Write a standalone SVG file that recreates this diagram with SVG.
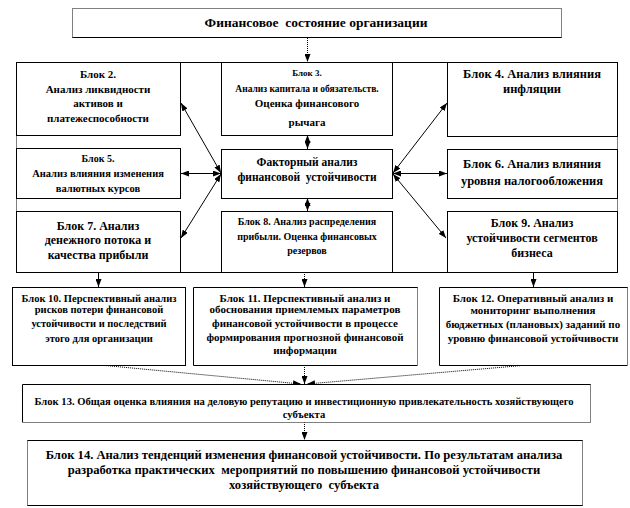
<svg xmlns="http://www.w3.org/2000/svg" width="630" height="508" viewBox="0 0 630 508">
<style>
  text { font-family: "Liberation Serif", "DejaVu Serif", serif; font-weight: bold; fill: #000; text-anchor: middle; white-space: pre; }
  .box { fill: #fff; stroke: #000; stroke-width: 1; }
  .edge { fill: none; stroke: #000; stroke-width: 1; }
  .dot { fill: none; stroke: #000; stroke-width: 1; stroke-dasharray: 1 1; }
  .ln { fill: none; stroke: #000; stroke-width: 1; }
  .lnd { fill: none; stroke: #000; stroke-width: 1; stroke-dasharray: 1 1; }
</style>
<defs>
  <marker id="ah" viewBox="0 0 8 6" refX="8" refY="3" markerWidth="8" markerHeight="6" markerUnits="userSpaceOnUse" orient="auto-start-reverse">
    <path d="M0,0 L8,3 L0,6 z" fill="#000"/>
  </marker>
</defs>
<rect width="630" height="508" fill="#fff"/>

<g id="container">
  <path class="edge" d="M16.5,62.5 H617.5 M16.5,272.5 H617.5"/>
  <path class="dot" d="M16.5,62.5 V272.5 M617.5,62.5 V272.5"/>
</g>

<g id="connectors">
  <line class="lnd" x1="307.5" y1="38" x2="307.5" y2="62" marker-end="url(#ah)"/>
  <line class="ln" x1="307.5" y1="135" x2="307.5" y2="149" marker-start="url(#ah)" marker-end="url(#ah)"/>
  <line class="ln" x1="307.5" y1="198" x2="307.5" y2="211" marker-start="url(#ah)" marker-end="url(#ah)"/>
  <line class="ln" x1="221" y1="173" x2="181" y2="103" marker-start="url(#ah)" marker-end="url(#ah)"/>
  <line class="ln" x1="221" y1="173.5" x2="181" y2="173.5" marker-start="url(#ah)" marker-end="url(#ah)"/>
  <line class="ln" x1="221" y1="174" x2="181" y2="238" marker-start="url(#ah)" marker-end="url(#ah)"/>
  <line class="ln" x1="393" y1="173" x2="447" y2="103" marker-start="url(#ah)" marker-end="url(#ah)"/>
  <line class="ln" x1="393" y1="173.5" x2="447" y2="173.5" marker-start="url(#ah)" marker-end="url(#ah)"/>
  <line class="ln" x1="393" y1="174" x2="446" y2="238" marker-start="url(#ah)" marker-end="url(#ah)"/>
  <line class="ln" x1="98.5" y1="272" x2="98.5" y2="287" marker-end="url(#ah)"/>
  <line class="lnd" x1="304.5" y1="272" x2="304.5" y2="287" marker-end="url(#ah)"/>
  <line class="ln" x1="533.5" y1="272" x2="533.5" y2="287" marker-end="url(#ah)"/>
  <line class="lnd" x1="100" y1="365" x2="301" y2="384" marker-end="url(#ah)"/>
  <line class="lnd" x1="528" y1="365" x2="307" y2="384" marker-end="url(#ah)"/>
  <line class="lnd" x1="304.5" y1="365" x2="304.5" y2="384" marker-end="url(#ah)"/>
  <line class="lnd" x1="304.5" y1="422" x2="304.5" y2="440" marker-end="url(#ah)"/>
</g>

<g id="n1">
  <rect x="72.5" y="8.5" width="489" height="29" fill="#fff"/>
  <path class="dot" d="M72.5,37.5 V8.5 H561.5 V37.5"/>
  <path class="edge" d="M72.5,37.5 H561.5"/>
  <text x="316" y="27" font-size="13.5">Финансовое  состояние организации</text>
</g>

<g id="b2">
  <rect class="box" x="16.5" y="62.5" width="164" height="73"/>
  <text x="98" y="78" font-size="11">Блок 2.</text>
  <text x="98" y="93" font-size="11">Анализ ликвидности</text>
  <text x="98" y="107" font-size="11">активов и</text>
  <text x="98" y="122" font-size="11">платежеспособности</text>
</g>

<g id="b3">
  <rect class="box" x="221.5" y="62.5" width="171" height="73"/>
  <text x="307" y="76" font-size="9">Блок 3.</text>
  <text x="307" y="92" font-size="9.5">Анализ капитала и обязательств.</text>
  <text x="307" y="107" font-size="11">Оценка финансового</text>
  <text x="307" y="126" font-size="11">рычага</text>
</g>

<g id="b4">
  <rect class="box" x="447.5" y="62.5" width="170" height="74"/>
  <text x="532" y="78" font-size="12.5">Блок 4. Анализ влияния</text>
  <text x="532" y="93" font-size="12.5">инфляции</text>
</g>

<g id="b5">
  <rect class="box" x="16.5" y="148.5" width="164" height="50"/>
  <text x="98" y="162" font-size="10">Блок 5.</text>
  <text x="98" y="177" font-size="10.5">Анализ влияния изменения</text>
  <text x="98" y="192" font-size="10.5">валютных курсов</text>
</g>

<g id="factor">
  <rect class="box" x="221.5" y="149.5" width="171" height="49"/>
  <text x="307" y="166" font-size="11.5">Факторный анализ</text>
  <text x="307" y="181" font-size="11.5">финансовой  устойчивости</text>
</g>

<g id="b6">
  <rect class="box" x="447.5" y="149.5" width="170" height="49"/>
  <text x="532" y="168" font-size="12.5">Блок 6. Анализ влияния</text>
  <text x="532" y="185" font-size="12.5">уровня налогообложения</text>
</g>

<g id="b7">
  <rect class="box" x="16.5" y="211.5" width="164" height="61"/>
  <text x="98" y="230" font-size="12">Блок 7. Анализ</text>
  <text x="98" y="244" font-size="12">денежного потока и</text>
  <text x="98" y="259" font-size="12">качества прибыли</text>
</g>

<g id="b8">
  <rect class="box" x="221.5" y="211.5" width="171" height="61"/>
  <text x="307" y="225" font-size="10">Блок 8. Анализ распределения</text>
  <text x="307" y="240" font-size="10">прибыли. Оценка финансовых</text>
  <text x="307" y="254" font-size="10">резервов</text>
</g>

<g id="b9">
  <rect class="box" x="447.5" y="211.5" width="170" height="61"/>
  <text x="532" y="227" font-size="12">Блок 9. Анализ</text>
  <text x="532" y="242" font-size="12">устойчивости сегментов</text>
  <text x="532" y="257" font-size="12">бизнеса</text>
</g>

<g id="b10">
  <rect class="box" x="12.5" y="287.5" width="173" height="78"/>
  <text x="99" y="302" font-size="10.5">Блок 10. Перспективный анализ</text>
  <text x="99" y="313" font-size="10.5">рисков потери финансовой</text>
  <text x="99" y="327" font-size="10.5">устойчивости и последствий</text>
  <text x="99" y="342" font-size="10.5">этого для организации</text>
</g>

<g id="b11">
  <rect x="193.5" y="287.5" width="224" height="78" fill="#fff"/>
  <path class="edge" d="M417.5,287.5 H193.5 V365.5 H417.5"/>
  <path class="dot" d="M417.5,287.5 V365.5"/>
  <text x="305" y="302" font-size="11">Блок 11. Перспективный анализ и</text>
  <text x="305" y="313" font-size="11">обоснования приемлемых параметров</text>
  <text x="305" y="327" font-size="11">финансовой устойчивости в процессе</text>
  <text x="305" y="341" font-size="11">формирования прогнозной финансовой</text>
  <text x="305" y="354" font-size="11">информации</text>
</g>

<g id="b12">
  <rect x="439.5" y="287.5" width="188" height="78" fill="#fff"/>
  <path class="edge" d="M627.5,287.5 H439.5 V365.5 H627.5"/>
  <path class="dot" d="M627.5,287.5 V365.5"/>
  <text x="533" y="302" font-size="11">Блок 12. Оперативный анализ и</text>
  <text x="533" y="314" font-size="11">мониторинг выполнения</text>
  <text x="533" y="328" font-size="11">бюджетных (плановых) заданий по</text>
  <text x="533" y="342" font-size="11">уровню финансовой устойчивости</text>
</g>

<g id="b13">
  <rect x="22.5" y="384.5" width="568" height="38" fill="#fff"/>
  <path class="edge" d="M22.5,422.5 V384.5 H590.5"/>
  <path class="dot" d="M590.5,384.5 V422.5 H22.5"/>
  <text x="304" y="405" font-size="10.6">Блок 13. Общая оценка влияния на деловую репутацию и инвестиционную привлекательность хозяйствующего</text>
  <text x="304" y="418" font-size="10.6">субъекта</text>
</g>

<g id="b14">
  <rect x="27.5" y="440.5" width="555" height="65" fill="#fff"/>
  <path class="edge" d="M27.5,440.5 H582.5 M27.5,505.5 H582.5"/>
  <path class="dot" d="M27.5,440.5 V505.5 M582.5,440.5 V505.5"/>
  <text x="304" y="459" font-size="12.6">Блок 14. Анализ тенденций изменения финансовой устойчивости. По результатам анализа</text>
  <text x="304" y="474" font-size="12.6">разработка практических  мероприятий по повышению финансовой устойчивости</text>
  <text x="304" y="489" font-size="12.6">хозяйствующего  субъекта</text>
</g>
</svg>
